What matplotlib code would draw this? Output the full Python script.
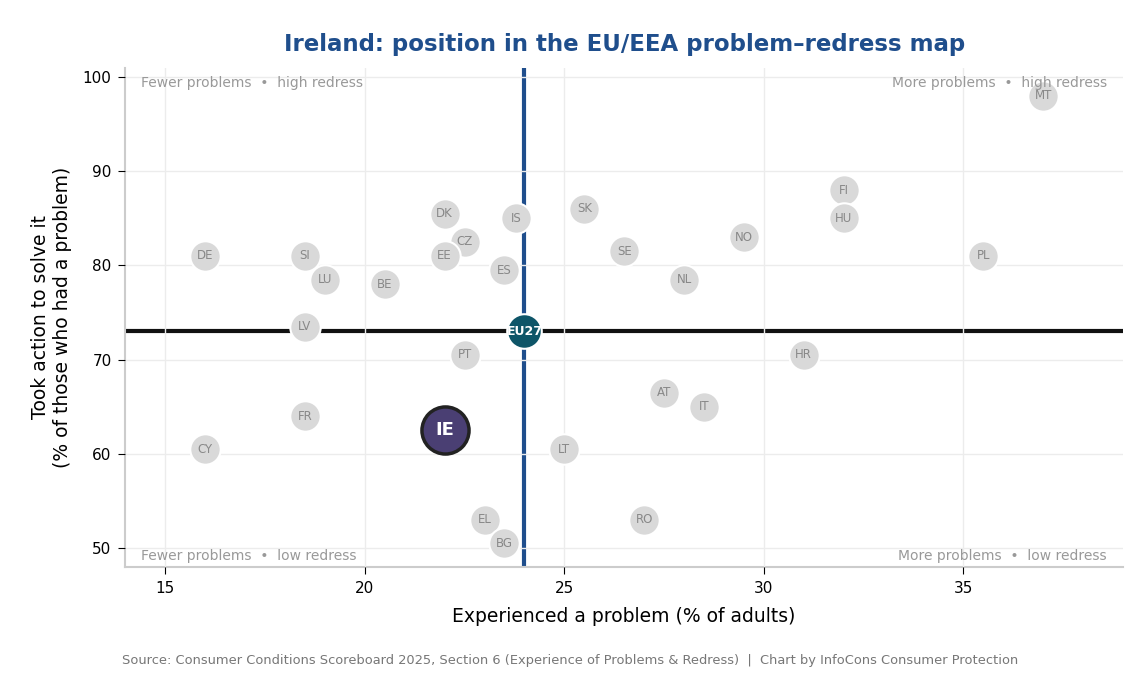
import matplotlib
matplotlib.use("Agg")
import matplotlib.pyplot as plt

# Країни: частка з проблемою (%) та частка тих, хто діяв (%)
countries = ["DE", "SI", "LU", "BE", "DK", "CZ", "EE", "IS", "ES", "SK",
             "SE", "NL", "NO", "FI", "HU", "PL", "MT", "LV", "PT", "HR",
             "AT", "IT", "FR", "CY", "LT", "EL", "BG", "RO"]
problem = [16, 18.5, 19, 20.5, 22, 22.5, 22, 23.8, 23.5, 25.5,
           26.5, 28, 29.5, 32, 32, 35.5, 37, 18.5, 22.5, 31,
           27.5, 28.5, 18.5, 16, 25, 23, 23.5, 27]
action = [81, 81, 78.5, 78, 85.5, 82.5, 81, 85, 79.5, 86,
          81.5, 78.5, 83, 88, 85, 81, 98, 73.5, 70.5, 70.5,
          66.5, 65, 64, 60.5, 60.5, 53, 50.5, 53]

eu_problem, eu_action = 24, 73
ie_problem, ie_action = 22, 62.5

fig, ax = plt.subplots(figsize=(11.4, 6.75), dpi=100)
fig.subplots_adjust(left=0.11, right=0.985, top=0.9, bottom=0.16)

ax.axvline(eu_problem, color="#1f4e8c", linewidth=3, zorder=2)
ax.axhline(eu_action, color="#111111", linewidth=3, zorder=2)

ax.scatter(problem, action, s=480, color="#d9d9d9", edgecolors="white",
           linewidths=1.5, zorder=3)
for c, x, y in zip(countries, problem, action):
    ax.text(x, y, c, ha="center", va="center", fontsize=8.5,
            color="#888888", zorder=4)

ax.scatter([eu_problem], [eu_action], s=620, color="#0e5568",
           edgecolors="white", linewidths=1.5, zorder=5)
ax.text(eu_problem, eu_action, "EU27", ha="center", va="center",
        fontsize=9, color="white", fontweight="bold", zorder=6)

ax.scatter([ie_problem], [ie_action], s=1150, color="#4a3f73",
           edgecolors="#222222", linewidths=2.5, zorder=5)
ax.text(ie_problem, ie_action, "IE", ha="center", va="center",
        fontsize=13, color="white", fontweight="bold", zorder=6)

ax.set_xlim(14, 39)
ax.set_ylim(48, 101)
ax.set_xticks([15, 20, 25, 30, 35])
ax.set_yticks([50, 60, 70, 80, 90, 100])
ax.tick_params(labelsize=11, length=5, pad=5)
ax.set_axisbelow(False)
ax.grid(True, color="#ececec", linewidth=1)

for side in ["top", "right"]:
    ax.spines[side].set_visible(False)
for side in ["left", "bottom"]:
    ax.spines[side].set_color("#cccccc")
    ax.spines[side].set_linewidth(1.5)

corner = dict(fontsize=10, color="#999999", transform=ax.transAxes, zorder=7)
ax.text(0.016, 0.982, "Fewer problems  •  high redress", ha="left", va="top", **corner)
ax.text(0.984, 0.982, "More problems  •  high redress", ha="right", va="top", **corner)
ax.text(0.016, 0.008, "Fewer problems  •  low redress", ha="left", va="bottom", **corner)
ax.text(0.984, 0.008, "More problems  •  low redress", ha="right", va="bottom", **corner)

ax.set_xlabel("Experienced a problem (% of adults)", fontsize=13.5, labelpad=8)
ax.set_ylabel("Took action to solve it\n(% of those who had a problem)",
              fontsize=13.5, labelpad=8)
ax.set_title("Ireland: position in the EU/EEA problem\u2013redress map",
             fontsize=16.5, fontweight="bold", color="#1f4e8c", pad=12)

fig.text(0.5, 0.012,
         "Source: Consumer Conditions Scoreboard 2025, Section 6 (Experience of Problems & Redress)  |  Chart by InfoCons Consumer Protection",
         ha="center", va="bottom", fontsize=9.4, color="#777777")

fig.savefig("out.png", dpi=100)
